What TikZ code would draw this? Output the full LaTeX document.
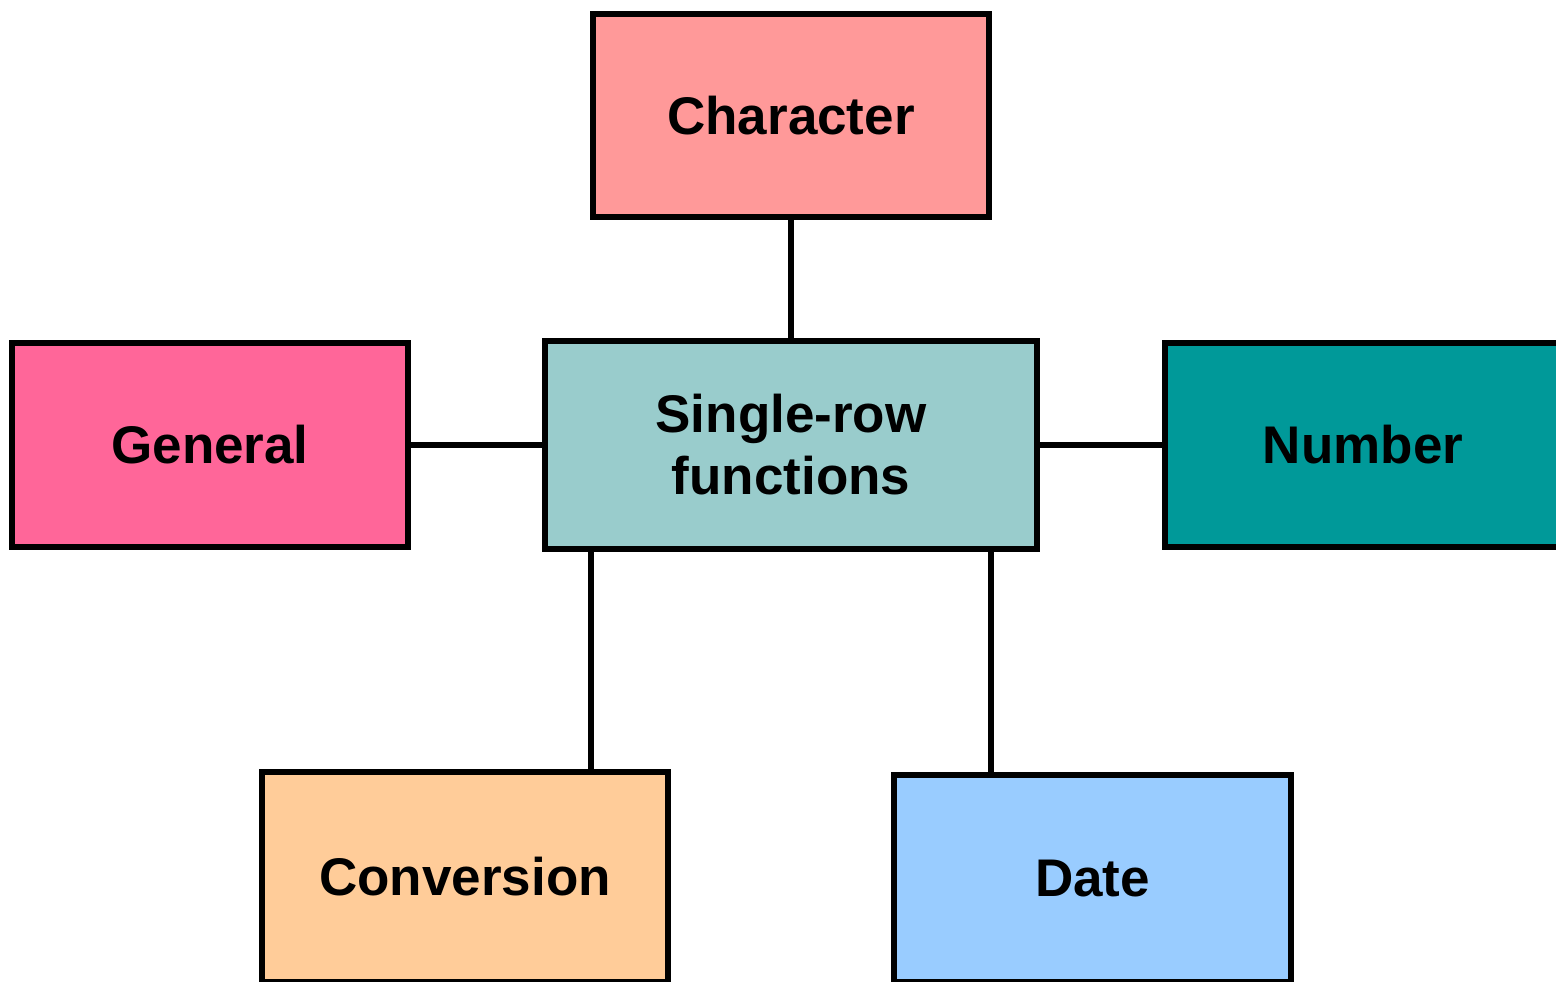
\documentclass[tikz,border=0pt]{standalone}
\usepackage{fontspec}
\setmainfont{Liberation Sans}
\definecolor{cChar}{HTML}{FF9999}
\definecolor{cGen}{HTML}{FF6699}
\definecolor{cMid}{HTML}{99CCCC}
\definecolor{cNum}{HTML}{009999}
\definecolor{cConv}{HTML}{FFCC99}
\definecolor{cDate}{HTML}{99CCFF}
\begin{document}
\begin{tikzpicture}[x=1pt,y=-1pt,
  box/.style={draw=black, line width=6pt, rectangle, inner sep=0pt,
    font=\fontsize{53}{62}\selectfont\bfseries, align=center},
  link/.style={draw=black, line width=6pt}]
\clip (0,0) rectangle (1556,982);
\fill[white] (0,0) rectangle (1556,982);
\node[box, fill=cChar, minimum width=396pt, minimum height=203pt] (char) at (791,115.5) {Character};
\node[box, fill=cGen, minimum width=396pt, minimum height=204pt] (gen) at (210,445) {General};
\node[box, fill=cMid, minimum width=492pt, minimum height=208pt] (mid) at (791,445) {Single-row\\functions};
\node[box, fill=cNum, minimum width=396pt, minimum height=204pt] (num) at (1363,445) {Number};
\node[box, fill=cConv, minimum width=406pt, minimum height=210pt] (conv) at (465,877) {Conversion};
\node[box, fill=cDate, minimum width=397pt, minimum height=207pt] (date) at (1092.5,878.5) {Date};
\coordinate (c1) at ([xshift=-200pt]mid.south);
\coordinate (d1) at ([xshift=200pt]mid.south);
\draw[link] (char.south) -- (mid.north);
\draw[link] (gen.east) -- (mid.west);
\draw[link] (mid.east) -- (num.west);
\draw[link] (c1) -- (c1 |- conv.north);
\draw[link] (d1) -- (d1 |- date.north);
\end{tikzpicture}
\end{document}
